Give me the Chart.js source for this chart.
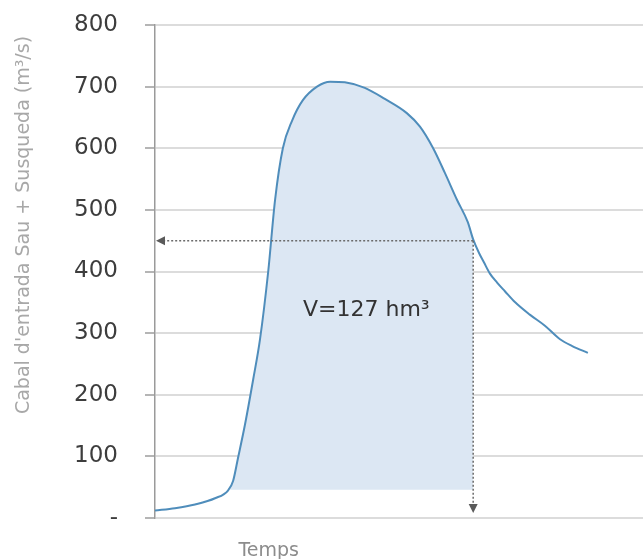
<!DOCTYPE html>
<html>
<head>
<meta charset="utf-8">
<script src="https://cdn.jsdelivr.net/npm/chart.js@4"></script>
<style>
  html, body { margin: 0; padding: 0; background: #fff; }
  #wrap { width: 643px; height: 559px; }
</style>
</head>
<body>
<div id="wrap"><canvas id="hydroChart"></canvas></div>
<script>
// hydrograph (time in arbitrary units, flow in m3/s)
const times = [0, 4.1, 8.2, 12.3, 15.0, 16.0, 17.0, 18.4, 20.1, 21.5, 23.2, 24.6, 26.2, 28.1, 30.3, 33.2,
    35.9, 38.9, 43.0, 47.1, 51.6, 54.3, 57.0, 59.4, 61.9, 64.1, 65.2, 66.4, 67.4, 68.6, 70.1, 71.7,
    73.8, 76.8, 79.9, 83.0, 85.5, 88.7];
const flows = [12, 16, 22, 32, 45, 60, 97, 150, 224, 289, 400, 516, 600, 645, 678, 700,
    708, 707, 698, 680, 657, 635, 600, 560, 516, 480, 452, 430, 415, 397, 382, 368,
    350, 330, 312, 290, 279, 268];
const yTicks = [0, 100, 200, 300, 400, 500, 600, 700, 800];

// shaded volume: above the base flow, up to the time the flow drops to the threshold
const baseFlow = 46;
const volStart = 15;
const volEnd = 65.2;
const thresholdFlow = 450;
const volumeLabel = 'V=127 hm\u00B3';
const yTitle = "Cabal d'entrada Sau + Susqueda (m\u00B3/s)";
const xTitle = 'Temps';

const curve = times.map((t, i) => ({ x: t, y: flows[i] }));
const volumePart = curve.filter(p => p.x >= volStart && p.x <= volEnd);

const annotations = {
    id: 'annotations',
    afterDatasetsDraw(chart) {
        const ctx = chart.ctx;
        const xs = chart.scales.x;
        const ys = chart.scales.y;
        const xEnd = xs.getPixelForValue(volEnd);
        const yThr = ys.getPixelForValue(thresholdFlow);
        const xLeft = chart.chartArea.left;
        const yBot = ys.getPixelForValue(8);

        ctx.save();
        ctx.strokeStyle = '#6b6b6b';
        ctx.fillStyle = '#5a5a5a';
        ctx.lineWidth = 1.5;
        ctx.setLineDash([2, 2]);
        ctx.beginPath();
        ctx.moveTo(xEnd, yThr);
        ctx.lineTo(xLeft + 8, yThr);
        ctx.moveTo(xEnd, yThr);
        ctx.lineTo(xEnd, yBot - 8);
        ctx.stroke();
        ctx.setLineDash([]);

        // left arrow head
        ctx.beginPath();
        ctx.moveTo(xLeft + 1, yThr);
        ctx.lineTo(xLeft + 10, yThr - 4.5);
        ctx.lineTo(xLeft + 10, yThr + 4.5);
        ctx.closePath();
        ctx.fill();
        // down arrow head
        ctx.beginPath();
        ctx.moveTo(xEnd, yBot);
        ctx.lineTo(xEnd - 4.5, yBot - 9);
        ctx.lineTo(xEnd + 4.5, yBot - 9);
        ctx.closePath();
        ctx.fill();

        ctx.fillStyle = '#333';
        ctx.font = '22px "DejaVu Sans"';
        ctx.textAlign = 'center';
        ctx.textBaseline = 'middle';
        ctx.fillText(volumeLabel, xs.getPixelForValue(43.3), ys.getPixelForValue(337));

        ctx.fillStyle = '#8c8c8c';
        ctx.font = '19px "DejaVu Sans"';
        ctx.textBaseline = 'top';
        ctx.fillText(xTitle, xs.getPixelForValue(23.3), chart.chartArea.bottom + 24);

        ctx.translate(24, 225);
        ctx.rotate(-Math.PI / 2);
        ctx.fillStyle = '#a8a8a8';
        ctx.font = '19px "DejaVu Sans"';
        ctx.textBaseline = 'middle';
        ctx.fillText(yTitle, 0, 0);
        ctx.restore();
    }
};

const config = {
    type: 'line',
    data: {
        datasets: [{
            label: 'Cabal',
            data: curve,
            borderColor: '#4f8dbb',
            borderWidth: 2,
            pointRadius: 0,
            cubicInterpolationMode: 'monotone',
            fill: false,
            order: 1
        }, {
            label: 'Volum',
            data: volumePart,
            borderWidth: 0,
            borderColor: 'rgba(0,0,0,0)',
            backgroundColor: '#dce7f3',
            pointRadius: 0,
            cubicInterpolationMode: 'monotone',
            fill: { value: baseFlow },
            order: 2
        }]
    },
    options: {
        responsive: true,
        maintainAspectRatio: false,
        animation: false,
        layout: {
            padding: { top: 25, right: 0, bottom: 33, left: 0 }
        },
        plugins: {
            legend: { display: false },
            tooltip: { enabled: false }
        },
        scales: {
            x: {
                type: 'linear',
                min: 0,
                max: 100,
                ticks: { display: false },
                grid: { display: false },
                border: { display: false }
            },
            y: {
                min: 0,
                max: 800,
                afterFit(scale) {
                    scale.width = 155;
                    scale.paddingTop = 0;
                    scale.paddingBottom = 0;
                },
                afterBuildTicks(scale) { scale.ticks = yTicks.map(v => ({ value: v })); },
                ticks: {
                    padding: 27,
                    color: '#3d3d3d',
                    font: { family: 'DejaVu Sans', size: 23 },
                    callback: v => (v === 0 ? '-' : v)
                },
                grid: {
                    color: '#dcdcdc',
                    lineWidth: 2,
                    tickLength: 10,
                    tickColor: '#b5b5b5'
                },
                border: { color: '#9a9a9a', width: 1.5 }
            }
        }
    },
    plugins: [annotations]
};

new Chart(document.getElementById('hydroChart').getContext('2d'), config);
</script>
</body>
</html>
